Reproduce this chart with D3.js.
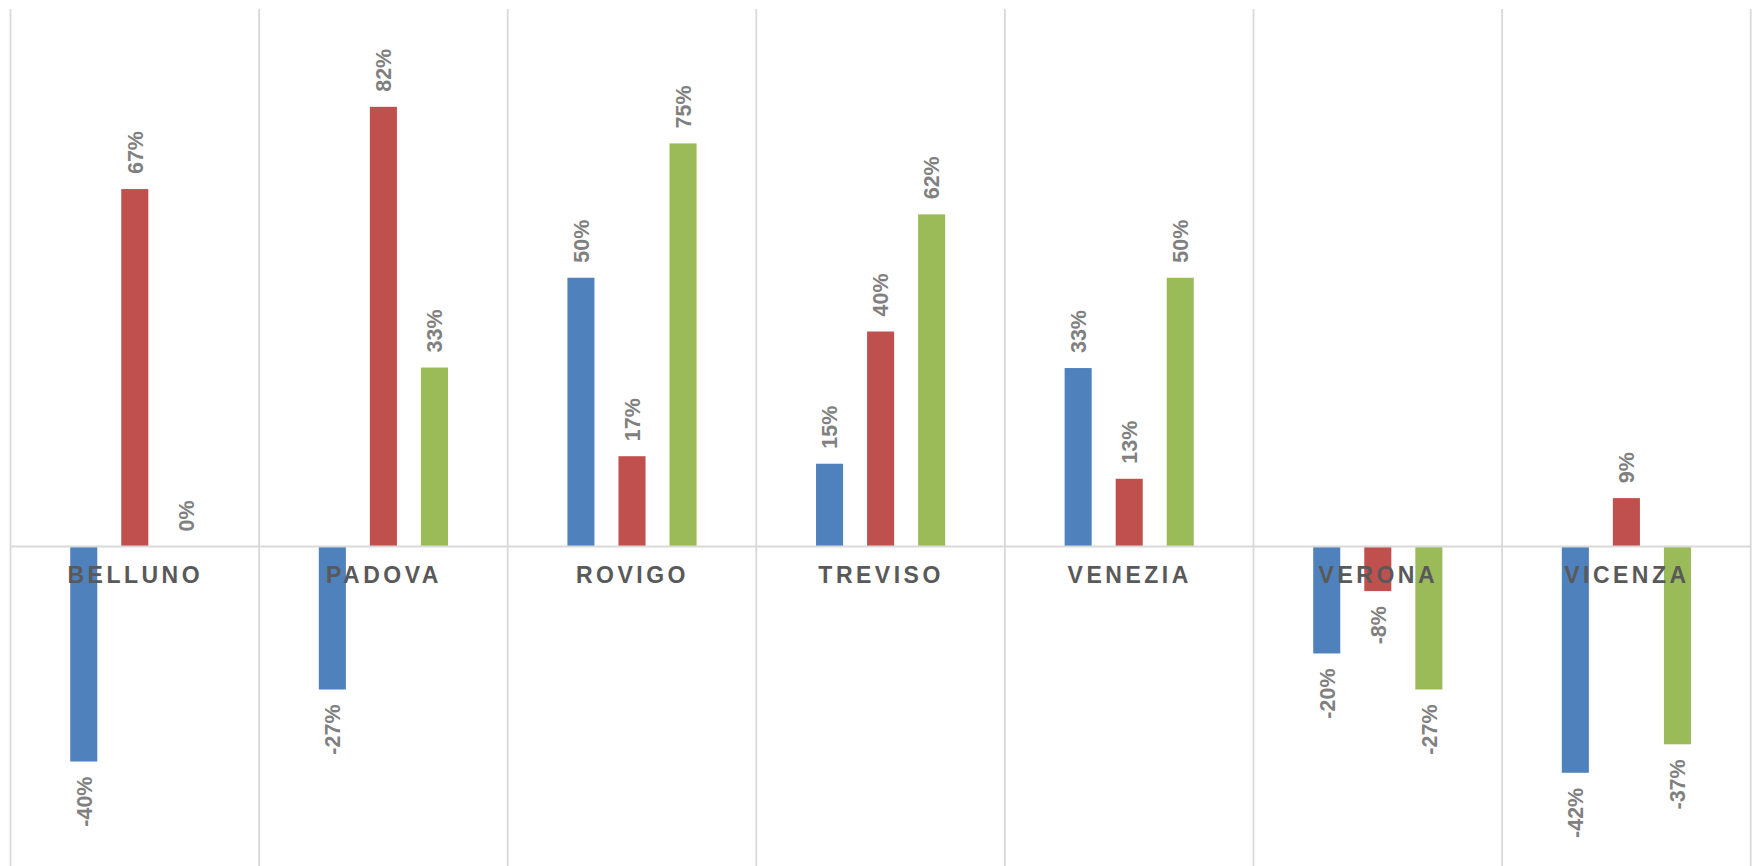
<!DOCTYPE html>
<html>
<head>
<meta charset="utf-8">
<script src="https://cdn.jsdelivr.net/npm/d3@7"></script>
<style>
  html, body { margin: 0; padding: 0; background: #fff; }
  svg { display: block; }
</style>
</head>
<body>
<svg id="chart" width="1756" height="866"></svg>
<script>
const categories = ["BELLUNO", "PADOVA", "ROVIGO", "TREVISO", "VENEZIA", "VERONA", "VICENZA"];
const seriesNames = ["Serie 1", "Serie 2", "Serie 3"];
const serie1 = [-0.40, -0.266, 0.50, 0.154, 0.332, -0.199, -0.421];
const serie2 = [0.665, 0.818, 0.168, 0.40, 0.126, -0.083, 0.09];
const serie3 = [0.00, 0.333, 0.75, 0.618, 0.50, -0.266, -0.368];
const seriesColors = ["#4F81BD", "#C0504D", "#9BBB59"];
const yDomain = [-0.6, 1.0];

(function () {
const seriesValues = [serie1, serie2, serie3];
const data = categories.map((c, i) => ({
  cat: c,
  values: seriesNames.map((s, j) => ({ series: s, idx: j, value: seriesValues[j][i] }))
}));

const svg = d3.select("#chart");
const pLeft = 10.5, pRight = 1750.7, pTop = 9, pBottom = 869;

const x0 = d3.scaleBand().domain(categories).range([pLeft, pRight]).padding(0);
const x1 = d3.scaleBand().domain(seriesNames).range([0, x0.bandwidth()])
  .paddingInner(0.47).paddingOuter(1.17);
const y = d3.scaleLinear().domain(yDomain).range([pBottom, pTop]);

const grid = "#D9D9D9";
const bounds = categories.map(c => x0(c)).concat([pRight]);
svg.append("g").selectAll("line").data(bounds).join("line")
  .attr("x1", d => d).attr("x2", d => d)
  .attr("y1", pTop).attr("y2", 866)
  .attr("stroke", grid).attr("stroke-width", 1.8);

const groups = svg.append("g").selectAll("g").data(data).join("g")
  .attr("transform", d => `translate(${x0(d.cat)},0)`);

groups.selectAll("rect").data(d => d.values).join("rect")
  .attr("x", d => x1(d.series))
  .attr("width", x1.bandwidth())
  .attr("y", d => Math.min(y(d.value), y(0)))
  .attr("height", d => Math.abs(y(d.value) - y(0)))
  .attr("fill", d => seriesColors[d.idx]);

svg.append("line")
  .attr("x1", pLeft).attr("x2", pRight)
  .attr("y1", y(0)).attr("y2", y(0))
  .attr("stroke", grid).attr("stroke-width", 2);

const fmt = v => d3.format(".0%")(v).replace("\u2212", "-");
groups.selectAll("text.val").data(d => d.values).join("text")
  .attr("class", "val")
  .attr("transform", d => {
    const cx = x1(d.series) + x1.bandwidth() / 2;
    const yy = d.value >= 0 ? y(d.value) - 15 : y(d.value) + 15;
    return `translate(${cx},${yy}) rotate(-90)`;
  })
  .attr("dy", "0.36em")
  .attr("text-anchor", d => d.value >= 0 ? "start" : "end")
  .attr("font-family", "'Liberation Sans', Arial, sans-serif")
  .attr("font-weight", "bold")
  .attr("font-size", "21.5px")
  .attr("fill", "#808080")
  .text(d => fmt(d.value));

svg.append("g").selectAll("text").data(categories).join("text")
  .attr("x", d => x0(d) + x0.bandwidth() / 2 + 0.5)
  .attr("y", y(0) + 36.5)
  .attr("text-anchor", "middle")
  .attr("font-family", "'Liberation Sans', Arial, sans-serif")
  .attr("font-weight", "bold")
  .attr("font-size", "23px")
  .attr("letter-spacing", "3.5px")
  .attr("fill", "#595959")
  .text(d => d);
})();
</script>
</body>
</html>
